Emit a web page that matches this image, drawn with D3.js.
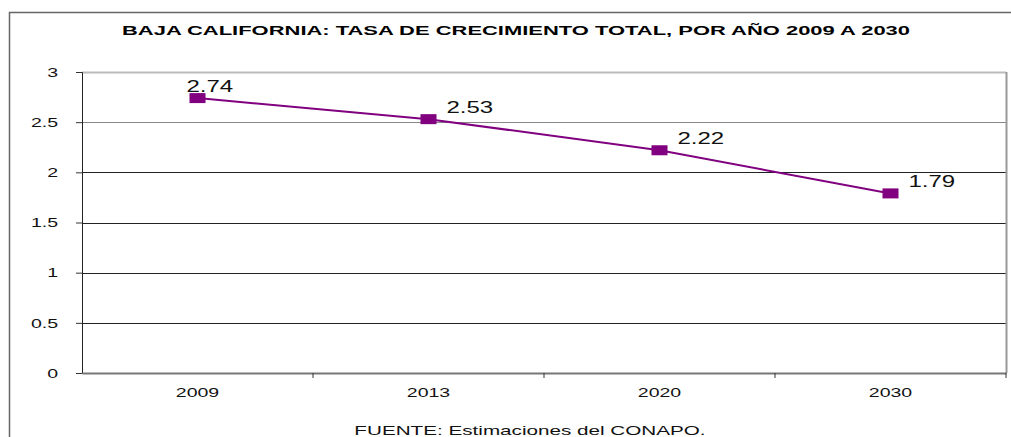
<!DOCTYPE html>
<html lang="es">

<head>
    <meta charset="UTF-8">
    <title>Baja California: tasa de crecimiento total</title>
    <script src="https://unpkg.com/d3@7.8.0/dist/d3.min.js"></script>
    <style>
        body {
            margin: 0px;
            background: #fff;
        }
    </style>
</head>

<body>

    <script>
        // data
        const years = ['2009', '2013', '2020', '2030'];
        const rates = [2.74, 2.53, 2.22, 1.79];
        const yTicks = [0, 0.5, 1, 1.5, 2, 2.5, 3];

        const titleText = 'BAJA CALIFORNIA: TASA DE CRECIMIENTO TOTAL, POR AÑO 2009 A 2030';
        const sourceText = 'FUENTE: Estimaciones del CONAPO.';

        const width = 1011;
        const height = 437;
        const margin = { top: 72, right: 5, bottom: 64, left: 82 };
        const innerwidth = width - margin.left - margin.right;
        const innerheight = height - margin.top - margin.bottom;

        // the reference looks stretched sideways, so widen the glyphs
        const stretchX = 1.5;
        function stretch(selection, factor) {
            selection.each(function () {
                const len = this.getComputedTextLength();
                d3.select(this)
                    .attr('textLength', len * factor)
                    .attr('lengthAdjust', 'spacingAndGlyphs');
            });
        }

        const svg = d3.select('body').append('svg')
            .attr('width', width)
            .attr('height', height)
            .style('font-family', '"Liberation Sans", Arial, sans-serif');

        // outer frame
        svg.append('path')
            .attr('d', `M9.5,${height} V12.5 H${width}`)
            .attr('fill', 'none')
            .attr('stroke', '#666')
            .attr('stroke-width', 1.5);

        // title
        svg.append('text')
            .attr('x', 516)
            .attr('y', 35)
            .attr('text-anchor', 'middle')
            .attr('textLength', 788)
            .attr('lengthAdjust', 'spacingAndGlyphs')
            .style('font-size', '13px')
            .style('font-weight', 'bold')
            .attr('fill', '#000')
            .text(titleText);

        const g = svg.append('g')
            .attr('transform', `translate(${margin.left}, ${margin.top})`);

        const xScale = d3.scaleBand()
            .domain(years)
            .range([0, innerwidth]);

        const yScale = d3.scaleLinear()
            .domain([0, 3])
            .range([innerheight, 0]);

        // gridlines
        g.selectAll('.grid').data(yTicks.filter(d => d > 0)).enter().append('line')
            .attr('class', 'grid')
            .attr('x1', 0)
            .attr('x2', innerwidth)
            .attr('y1', d => Math.round(yScale(d)) + 0.5)
            .attr('y2', d => Math.round(yScale(d)) + 0.5)
            .attr('stroke', d => d === 3 ? '#bbb' : d === 2.5 ? '#888' : '#222')
            .attr('stroke-width', d => d === 3 ? 2 : 1);

        // right border of plot area
        g.append('line')
            .attr('x1', innerwidth + 0.5)
            .attr('x2', innerwidth + 0.5)
            .attr('y1', yScale(3))
            .attr('y2', innerheight)
            .attr('stroke', '#999')
            .attr('stroke-width', 2);

        // Y axis
        const yAxis = d3.axisLeft(yScale)
            .tickValues(yTicks)
            .tickSize(6)
            .tickPadding(18)
            .tickFormat(d3.format('~g'));
        const yAxisG = g.append('g').call(yAxis);
        yAxisG.selectAll('.tick text')
            .style('font-size', '13px')
            .attr('fill', '#111')
            .call(stretch, stretchX);
        yAxisG.selectAll('.tick line').attr('stroke', '#333');
        yAxisG.select('.domain').attr('stroke', '#222');

        // X axis
        const xAxis = d3.axisBottom(xScale)
            .tickSize(0)
            .tickPadding(15);
        const xAxisG = g.append('g')
            .attr('transform', `translate(0, ${innerheight})`)
            .call(xAxis);
        xAxisG.select('.domain').attr('stroke', '#777').attr('stroke-width', 2);
        xAxisG.selectAll('.tick text')
            .style('font-size', '13px')
            .attr('fill', '#111')
            .call(stretch, stretchX);

        // category separators
        g.selectAll('.sep').data(years.slice(1).concat(['end'])).enter().append('line')
            .attr('class', 'sep')
            .attr('x1', (d, i) => xScale.step() * (i + 1))
            .attr('x2', (d, i) => xScale.step() * (i + 1))
            .attr('y1', innerheight)
            .attr('y2', innerheight + 5)
            .attr('stroke', '#333');

        const cx = d => xScale(d) + xScale.bandwidth() / 2;
        const points = years.map((d, i) => ({ year: d, value: rates[i] }));

        // line
        g.append('path')
            .datum(points)
            .attr('fill', 'none')
            .attr('stroke', '#800080')
            .attr('stroke-width', 2)
            .attr('d', d3.line().x(d => cx(d.year)).y(d => yScale(d.value)));

        // markers
        g.selectAll('.marker').data(points).enter().append('rect')
            .attr('class', 'marker')
            .attr('x', d => cx(d.year) - 8)
            .attr('y', d => yScale(d.value) - 5)
            .attr('width', 16)
            .attr('height', 10)
            .attr('fill', '#800080');

        // data labels
        g.selectAll('.label').data(points).enter().append('text')
            .attr('class', 'label')
            .attr('x', (d, i) => cx(d.year) + (i === 0 ? -11 : 18))
            .attr('y', d => yScale(d.value) - 6)
            .style('font-size', '16px')
            .attr('fill', '#111')
            .text(d => d.value.toFixed(2))
            .call(stretch, stretchX);

        // source note
        svg.append('text')
            .attr('x', 530)
            .attr('y', 435)
            .attr('text-anchor', 'middle')
            .style('font-size', '13.5px')
            .attr('fill', '#111')
            .text(sourceText)
            .call(stretch, 1.53);
    </script>

</body>

</html>
